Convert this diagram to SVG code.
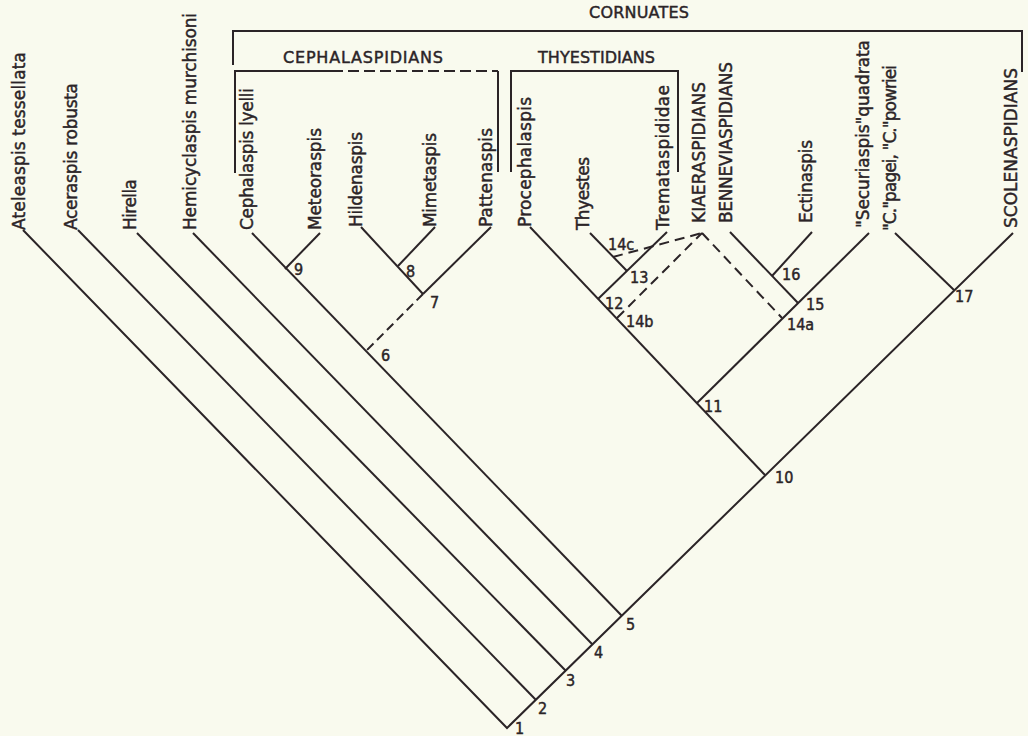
<svg xmlns="http://www.w3.org/2000/svg" width="1028" height="736" viewBox="0 0 1028 736">
<style>
.bg{fill:#f9faee}
.ln{fill:none;stroke:#2b2427;stroke-width:2;stroke-linecap:butt;stroke-linejoin:miter}
.ds{fill:none;stroke:#2b2427;stroke-width:2;stroke-dasharray:10 6}
.lf{font-family:"DejaVu Sans","Liberation Sans",sans-serif;font-size:17px;fill:#2b2427;stroke:#2b2427;stroke-width:0.45}
.gp{font-family:"DejaVu Sans","Liberation Sans",sans-serif;font-size:16px;fill:#2b2427;stroke:#2b2427;stroke-width:0.45}
.nb{font-family:"DejaVu Sans Condensed","DejaVu Sans","Liberation Sans",sans-serif;font-size:16px;fill:#2b2427;stroke:#2b2427;stroke-width:0.45}
</style>
<rect class="bg" x="0" y="0" width="1028" height="736"/>

<g id="connectors">
  <path class="ln" d="M23,230 L507,728 L1013,233"/>
  <path class="ln" d="M78,230 L536,700"/>
  <path class="ln" d="M137,233 L566,671"/>
  <path class="ln" d="M193,233 L592,644"/>
  <path class="ln" d="M252,233 L622,616"/>
  <path class="ln" d="M320,233 L285,269"/>
  <path class="ln" d="M361,227 L423,294"/>
  <path class="ln" d="M435,227 L398,266"/>
  <path class="ln" d="M491,227 L423,294"/>
  <path class="ds" d="M423,294 L366,351" style="stroke-dasharray:9 5"/>
  <path class="ln" d="M530,227 L765,475"/>
  <path class="ln" d="M667,232 L598,299"/>
  <path class="ln" d="M590,233 L627,271"/>
  <path class="ln" d="M869,233 L697,403"/>
  <path class="ln" d="M730,232 L798,303"/>
  <path class="ln" d="M812,232 L772,276"/>
  <path class="ln" d="M895,233 L954,290"/>
  <path class="ds" d="M613,257 L702,233"/>
  <path class="ds" d="M617,318 L702,233"/>
  <path class="ds" d="M702,233 L782,318"/>
  <path class="ln" d="M233,65 V31 H1022 V72"/>
  <path class="ln" d="M235,173 V71 H332"/>
  <path class="ds" d="M332,71 H498" style="stroke-dasharray:11 5"/>
  <path class="ln" d="M498,71 V172"/>
  <path class="ln" d="M511,172 V71 H678 V172"/>
</g>

<g id="group-labels">
  <text class="gp" x="589" y="18" textLength="100">CORNUATES</text>
  <text class="gp" x="283" y="63" textLength="160">CEPHALASPIDIANS</text>
  <text class="gp" x="538" y="63" textLength="117">THYESTIDIANS</text>
</g>

<g id="leaf-ateleaspis"><text class="lf" transform="translate(25,230) rotate(-90)" textLength="178">Ateleaspis tessellata</text></g>
<g id="leaf-aceraspis"><text class="lf" transform="translate(77,230) rotate(-90)" textLength="147">Aceraspis robusta</text></g>
<g id="leaf-hirella"><text class="lf" transform="translate(136,230) rotate(-90)" textLength="51">Hirella</text></g>
<g id="leaf-hemicyclaspis"><text class="lf" transform="translate(196,230) rotate(-90)" textLength="217">Hemicyclaspis murchisoni</text></g>
<g id="leaf-cephalaspis"><text class="lf" transform="translate(253,230) rotate(-90)" textLength="142">Cephalaspis lyelli</text></g>
<g id="leaf-meteoraspis"><text class="lf" transform="translate(321,230) rotate(-90)" textLength="102">Meteoraspis</text></g>
<g id="leaf-hildenaspis"><text class="lf" transform="translate(362,227) rotate(-90)" textLength="95">Hildenaspis</text></g>
<g id="leaf-mimetaspis"><text class="lf" transform="translate(436,227) rotate(-90)" textLength="94">Mimetaspis</text></g>
<g id="leaf-pattenaspis"><text class="lf" transform="translate(492,227) rotate(-90)" textLength="99">Pattenaspis</text></g>
<g id="leaf-procephalaspis"><text class="lf" transform="translate(531,227) rotate(-90)" textLength="130">Procephalaspis</text></g>
<g id="leaf-thyestes"><text class="lf" transform="translate(589,230) rotate(-90)" textLength="73">Thyestes</text></g>
<g id="leaf-tremataspididae"><text class="lf" transform="translate(669,230) rotate(-90)" textLength="145">Tremataspididae</text></g>
<g id="leaf-kiaeraspidians"><text class="lf" transform="translate(705,223) rotate(-90)" textLength="141">KIAERASPIDIANS</text></g>
<g id="leaf-benneviaspidians"><text class="lf" transform="translate(732,223) rotate(-90)" textLength="161">BENNEVIASPIDIANS</text></g>
<g id="leaf-ectinaspis"><text class="lf" transform="translate(812,223) rotate(-90)" textLength="83">Ectinaspis</text></g>
<g id="leaf-securiaspis"><text class="lf" transform="translate(869,228) rotate(-90)" textLength="188">"Securiaspis"quadrata</text></g>
<g id="leaf-cpagei"><text class="lf" transform="translate(896,231) rotate(-90)" textLength="166">"C."pagei, "C."powriei</text></g>
<g id="leaf-scolenaspidians"><text class="lf" transform="translate(1017,228) rotate(-90)" textLength="160">SCOLENASPIDIANS</text></g>

<g id="node-1"><text class="nb" x="515" y="734">1</text></g>
<g id="node-2"><text class="nb" x="538" y="714">2</text></g>
<g id="node-3"><text class="nb" x="566" y="686">3</text></g>
<g id="node-4"><text class="nb" x="594" y="658">4</text></g>
<g id="node-5"><text class="nb" x="626" y="630">5</text></g>
<g id="node-6"><text class="nb" x="381" y="361">6</text></g>
<g id="node-7"><text class="nb" x="430" y="308">7</text></g>
<g id="node-8"><text class="nb" x="406" y="277">8</text></g>
<g id="node-9"><text class="nb" x="294" y="275">9</text></g>
<g id="node-10"><text class="nb" x="775" y="483">10</text></g>
<g id="node-11"><text class="nb" x="704" y="412">11</text></g>
<g id="node-12"><text class="nb" x="605" y="309">12</text></g>
<g id="node-13"><text class="nb" x="630" y="283">13</text></g>
<g id="node-14a"><text class="nb" x="787" y="330">14a</text></g>
<g id="node-14b"><text class="nb" x="626" y="327">14b</text></g>
<g id="node-14c"><text class="nb" x="608" y="250">14c</text></g>
<g id="node-15"><text class="nb" x="806" y="310">15</text></g>
<g id="node-16"><text class="nb" x="782" y="280">16</text></g>
<g id="node-17"><text class="nb" x="955" y="302">17</text></g>
</svg>
